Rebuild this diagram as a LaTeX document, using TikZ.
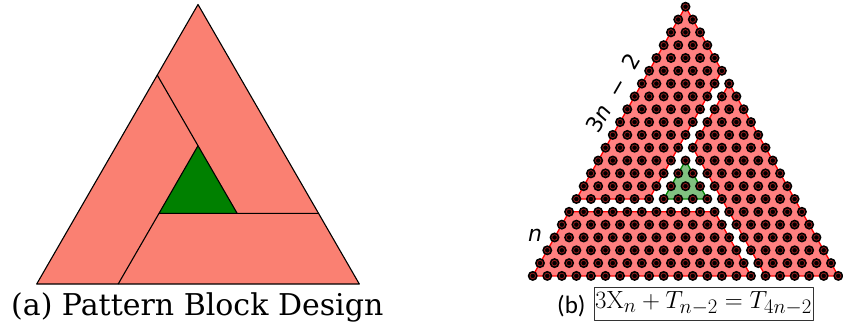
\documentclass[tikz,border=0pt]{standalone}
\usepackage{fontspec}
\usepackage{amsmath}
\usepackage{tikz}
\usetikzlibrary{calc}
\newfontfamily\capfont{DejaVu Serif}
\newfontfamily\labfont{DejaVu Sans}
\newfontfamily\subfont{Carlito}
\definecolor{salmon}{RGB}{250,128,114}
\definecolor{leafgreen}{RGB}{0,128,0}
\definecolor{piecered}{RGB}{255,128,128}
\definecolor{piecegreen}{RGB}{128,192,128}
\definecolor{ringred}{RGB}{150,30,30}

\begin{document}
\begin{tikzpicture}[x=1pt, y=-1pt, line join=round,
    block/.style={fill=salmon, draw=black, line width=1.1pt},
    redpiece/.style={fill=piecered, draw=red, line width=1.3pt},
    greenpiece/.style={fill=piecegreen, draw=leafgreen, line width=1.3pt}]
    \useasboundingbox (0,0) rectangle (843,324);

    % (a) Pattern blocks
    \coordinate (A) at (198,4.5);
    \coordinate (B) at (36.7,284);
    \coordinate (C) at (359.3,284);
    \coordinate (Q) at ($(A)!0.2526!(B)$);
    \coordinate (P) at ($(B)!0.2526!(C)$);
    \coordinate (R) at ($(C)!0.2526!(A)$);
    \coordinate (Gt) at (198,145.7);
    \coordinate (Gl) at (159,213.4);
    \coordinate (Gr) at (237.2,213.4);
    \draw[block] (A) -- (B) -- (C) -- cycle;
    \draw[line width=1.1pt] (Q) -- (Gt);
    \draw[line width=1.1pt] (P) -- (Gl);
    \draw[line width=1.1pt] (Gr) -- (R);
    \draw[fill=leafgreen, draw=black, line width=1.1pt] (Gt) -- (Gl) -- (Gr) -- cycle;
    \node[font=\capfont\fontsize{30}{31}\selectfont, anchor=base west, inner sep=0] (capa) at (11,315) {(a) Pattern Block Design};

    % (b) Dot lattice, row r has r dots
    \foreach \r in {1,...,22}{
        \pgfmathtruncatemacro\kmax{\r-1}
        \foreach \k in {0,...,\kmax}
            \coordinate (d-\r-\k) at ({685.5+(\k-(\r-1)/2)*14.55},{6.7+(\r-1)*12.82});
    }
    \draw[redpiece] (d-1-0) -- (d-16-0) -- (d-16-5) -- (d-6-5) -- cycle;
    \draw[redpiece] (d-7-6) -- (d-22-21) -- (d-22-16) -- (d-12-6) -- cycle;
    \draw[redpiece] (d-17-0) -- (d-22-0) -- (d-22-15) -- (d-17-10) -- cycle;
    \draw[greenpiece] (d-13-6) -- (d-16-6) -- (d-16-9) -- cycle;
    \foreach \r in {1,...,22}{
        \pgfmathtruncatemacro\kmax{\r-1}
        \foreach \k in {0,...,\kmax}{
            \fill[black] (d-\r-\k) circle (5pt);
            \draw[ringred, line width=0.8pt] (d-\r-\k) circle (2.8pt);
        }
    }
    \node[font=\labfont\fontsize{22}{24}\selectfont, rotate=60, inner sep=0] (side) at (613.3,93.4) {3\textit{n}\hspace{.6em}−\hspace{.6em}2};
    \node[font=\labfont\fontsize{22}{24}\selectfont, inner sep=0] (rows) at (535,235) {\textit{n}};

    % caption (b)
    \node[font=\subfont\fontsize{25}{26}\selectfont, anchor=base west, inner sep=0] (capb) at (557,313) {(b)};
    \node[draw=black!80, line width=0.8pt, minimum width=219, minimum height=33, inner sep=0,
          font=\fontsize{24.88}{26}\selectfont] (eq) at (703.5,303.5) {$3\mathrm{X}_n+T_{n-2}=T_{4n-2}$};
\end{tikzpicture}
\end{document}
